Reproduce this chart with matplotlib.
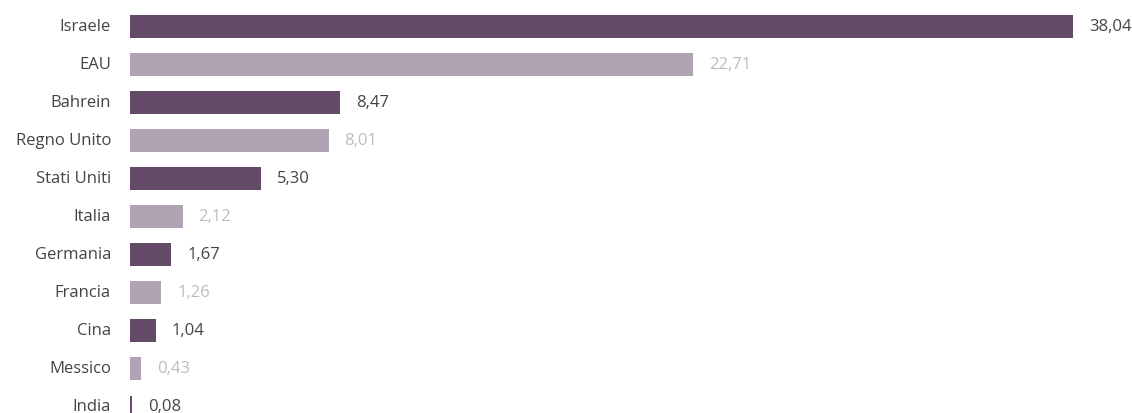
import matplotlib
matplotlib.use("Agg")
import matplotlib.pyplot as plt

# Data
countries = ["Israele", "EAU", "Bahrein", "Regno Unito", "Stati Uniti", "Italia",
             "Germania", "Francia", "Cina", "Messico", "India"]
values = [38.04, 22.71, 8.47, 8.01, 5.30, 2.12, 1.67, 1.26, 1.04, 0.43, 0.08]

dark = "#634a66"
light = "#b0a3b3"
dark_txt = "#444444"
light_txt = "#c2b8c4"

plt.rcParams["font.family"] = ["Open Sans", "DejaVu Sans"]

fig = plt.figure(figsize=(11.32, 4.14), dpi=100)
ax = fig.add_axes([130 / 1132, 0, 1002 / 1132, 1])

ypos = list(range(len(countries)))
colors = [dark if i % 2 == 0 else light for i in ypos]
ax.barh(ypos, values, height=0.6, color=colors)

for i, v in enumerate(values):
    txt = f"{v:.2f}".replace(".", ",")
    ax.annotate(txt, (v, i), xytext=(16, 1), textcoords="offset pixels",
                va="center", ha="left", fontsize=12,
                color=dark_txt if i % 2 == 0 else light_txt)
    ax.annotate(countries[i], (0, i), xytext=(-19, 1), textcoords="offset pixels",
                va="center", ha="right", fontsize=12, color="#444444",
                annotation_clip=False)

ax.set_xlim(0, 1002 / 24.79)
ax.set_ylim(10.16, -0.73)
ax.axis("off")

plt.savefig("out.png", dpi=100)
plt.close()
